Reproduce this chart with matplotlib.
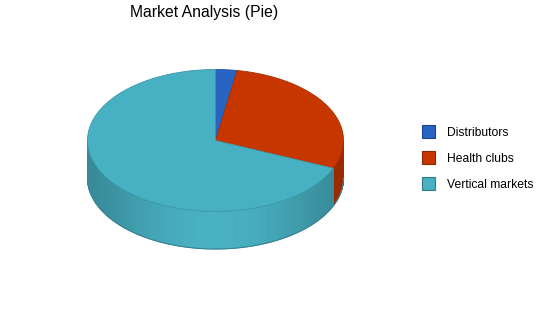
import numpy as np
import matplotlib.pyplot as plt
from matplotlib.patches import Polygon, Rectangle

plt.rcParams['font.family'] = ['Liberation Sans', 'DejaVu Sans']

# data
categories = ['Distributors', 'Health clubs', 'Vertical markets']
values = [2.7, 28.7, 68.6]
top_colors = ['#2864C4', '#C83600', '#47B1C3']
side_colors = ['#1E4C96', '#9A2A00', '#47B1C3']

# pie geometry (pixel space)
cx, cy = 215.5, 140.5
rx, ry = 128.0, 71.0
depth = 37.5

fig = plt.figure(figsize=(5.5, 3.18), dpi=100)
ax = fig.add_axes([0, 0, 1, 1])
ax.set_xlim(0, 550)
ax.set_ylim(318, 0)
ax.axis('off')


def shade(color, f):
    c = np.array(plt.matplotlib.colors.to_rgb(color))
    return tuple(np.clip(c * f, 0, 1))


fracs = np.array(values) / np.sum(values)
starts = 90 - 360 * np.concatenate([[0], np.cumsum(fracs)[:-1]])
ends = starts - 360 * fracs

# side walls (only the front half is visible)
for i in range(len(categories)):
    a0, a1 = ends[i], starts[i]
    t = np.linspace(a0, a1, 400)
    for k in range(len(t) - 1):
        tm = np.radians((t[k] + t[k + 1]) / 2)
        if np.sin(tm) > 0:
            continue
        f = 0.78 + 0.22 * abs(np.sin(tm)) ** 3
        if i == 1:
            f = 1.0
        ta, tb = np.radians(t[k]), np.radians(t[k + 1])
        xa, xb = cx + rx * np.cos(ta), cx + rx * np.cos(tb)
        ya, yb = cy - ry * np.sin(ta), cy - ry * np.sin(tb)
        ax.add_patch(Polygon([(xa, ya), (xb, yb), (xb, yb + depth), (xa, ya + depth)],
                             closed=True, facecolor=shade(side_colors[i], f),
                             edgecolor=shade(side_colors[i], f), lw=0.6, zorder=1))

# bottom outline of the side wall
tb = np.radians(np.linspace(180, 360, 300))
ax.plot(cx + rx * np.cos(tb), cy - ry * np.sin(tb) + depth, color='#3A8493', lw=0.8, zorder=2)

# top faces
for i in range(len(categories)):
    t = np.radians(np.linspace(starts[i], ends[i], 200))
    pts = [(cx, cy)] + list(zip(cx + rx * np.cos(t), cy - ry * np.sin(t)))
    ax.add_patch(Polygon(pts, closed=True, facecolor=top_colors[i],
                         edgecolor=shade(top_colors[i], 0.85), lw=0.6, zorder=3))

ax.text(204.5, 12, 'Market Analysis (Pie)', fontsize=11.3, ha='center', va='center')

# legend
for i, name in enumerate(categories):
    y = 131 + 26 * i
    ax.add_patch(Rectangle((421.5, y - 6.5), 13, 13, facecolor=top_colors[i],
                           edgecolor=shade(top_colors[i], 0.7), lw=0.8, zorder=4))
    ax.text(447, y + 2, name, fontsize=8.7, ha='left', va='center')

fig.savefig('out.png', dpi=100)
